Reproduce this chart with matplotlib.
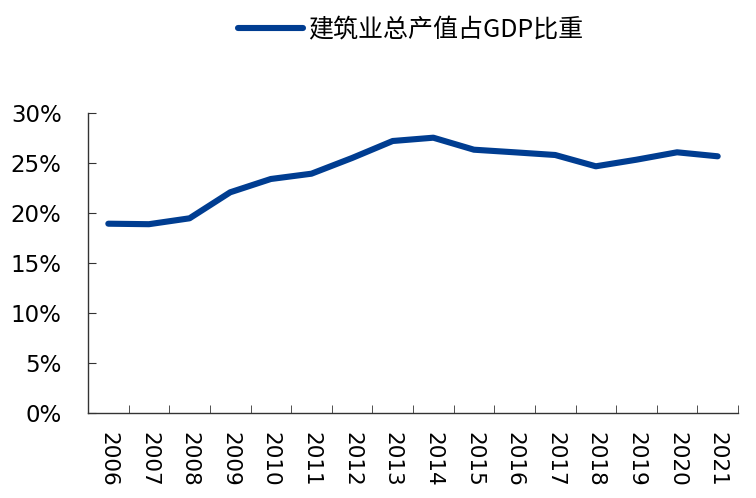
import matplotlib
matplotlib.use("Agg")
import matplotlib.pyplot as plt
import numpy as np

years = ["2006", "2007", "2008", "2009", "2010", "2011", "2012", "2013",
         "2014", "2015", "2016", "2017", "2018", "2019", "2020", "2021"]
ratio = [18.93, 18.88, 19.47, 22.07, 23.4, 23.93, 25.5, 27.2,
         27.53, 26.33, 26.07, 25.8, 24.67, 25.33, 26.07, 25.67]
series_name = "建筑业总产值占GDP比重"
yticks = [0, 5, 10, 15, 20, 25, 30]

plt.rcParams['font.family'] = ['DejaVu Sans']

fig = plt.figure(figsize=(7.56, 4.98), dpi=100)
ax = fig.add_axes([88/756, 1-413/498, 650/756, 300/498])

x = np.arange(len(years))
line, = ax.plot(x, ratio, color='#003D91', lw=4.4, solid_capstyle='round',
                solid_joinstyle='round', label=series_name)

ax.set_xlim(-0.5, len(years)-0.5)
ax.set_ylim(0, 30)
ax.set_yticks(yticks)
ax.set_yticklabels([f"{v}%" for v in yticks])
ax.set_xticks(x)
ax.set_xticklabels(years, rotation=270, ha='center', va='top')
ax.set_xticks(np.arange(-0.5, len(years)), minor=True)

for s in ['top', 'right']:
    ax.spines[s].set_visible(False)
for s in ['left', 'bottom']:
    ax.spines[s].set_color('#333333')
    ax.spines[s].set_linewidth(1.0)

ax.tick_params(axis='x', which='major', length=0, pad=14, labelsize=15.5)
ax.tick_params(axis='x', which='minor', direction='in', length=6, color='#333333')
ax.tick_params(axis='y', which='major', direction='in', length=6, pad=19,
               labelsize=16.5, color='#333333')

leg = fig.legend(handles=[line], loc='center', bbox_to_anchor=(411/756, 1-30/498),
                 frameon=False, handlelength=2.6, handletextpad=0.2,
                 prop={'family': ['Noto Sans CJK SC', 'DejaVu Sans'], 'size': 18})

fig.savefig("out.png", dpi=100)
